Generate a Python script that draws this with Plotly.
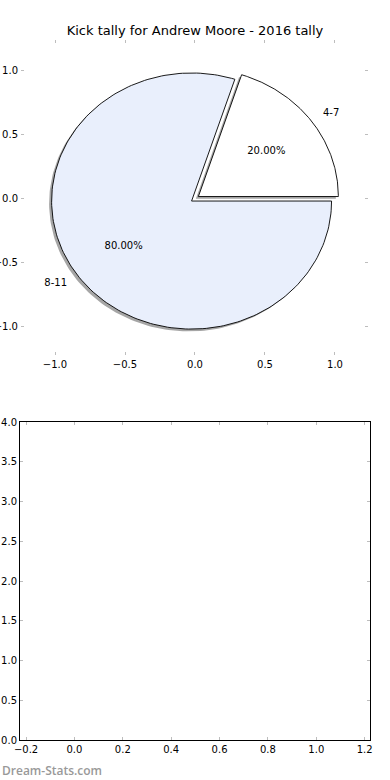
import numpy as np
import plotly.graph_objects as go

# ---- data ----
labels = ["4-7", "8-11"]
shares = [20.0, 80.0]
slice_colors = ["#FFFFFF", "#E9EFFC"]
explode = [0.03, 0.03]
title_text = "Kick tally for Andrew Moore - 2016 tally"
watermark = "Dream-Stats.com"
top_ticks = [-1.0, -0.5, 0.0, 0.5, 1.0]
bottom_xticks = [-0.2, 0.0, 0.2, 0.4, 0.6, 0.8, 1.0, 1.2]
bottom_yticks = [0.0, 0.5, 1.0, 1.5, 2.0, 2.5, 3.0, 3.5, 4.0]

W, H = 390, 780
FONT = "DejaVu Sans"

fig = go.Figure()

# ---- pie built in data coordinates (matplotlib-style, start angle 0, ccw) ----
total = sum(shares)
theta_start = 0.0
wedges = []
for lab, val, col, ex in zip(labels, shares, slice_colors, explode):
    span = 360.0 * val / total
    t1, t2 = theta_start, theta_start + span
    mid = np.deg2rad((t1 + t2) / 2)
    cx, cy = ex * np.cos(mid), ex * np.sin(mid)
    th = np.deg2rad(np.linspace(t1, t2, 200))
    xs = np.concatenate([[cx], cx + np.cos(th), [cx]])
    ys = np.concatenate([[cy], cy + np.sin(th), [cy]])
    wedges.append((lab, val, col, ex, mid, cx, cy, xs, ys))
    theta_start = t2

shadow_off = -0.018
for lab, val, col, ex, mid, cx, cy, xs, ys in wedges:
    fig.add_trace(go.Scatter(x=xs + shadow_off, y=ys + shadow_off, mode="lines",
                             fill="toself", fillcolor="rgba(77,77,77,0.5)",
                             line=dict(width=0), hoverinfo="skip", showlegend=False,
                             xaxis="x", yaxis="y"))
for lab, val, col, ex, mid, cx, cy, xs, ys in wedges:
    fig.add_trace(go.Scatter(x=xs, y=ys, mode="lines", fill="toself", fillcolor=col,
                             line=dict(color="black", width=0.9), hoverinfo="skip",
                             showlegend=False, xaxis="x", yaxis="y"))

for lab, val, col, ex, mid, cx, cy, xs, ys in wedges:
    # percentage
    r = 0.6 + ex
    fig.add_trace(go.Scatter(x=[r * np.cos(mid)], y=[r * np.sin(mid)], mode="text",
                             text=[f"{100*val/total:.2f}%"], textposition="middle center",
                             textfont=dict(family=FONT, size=10, color="black"),
                             hoverinfo="skip", showlegend=False, xaxis="x", yaxis="y"))
    # label
    r = 1.1 + ex
    lx, ly = r * np.cos(mid), r * np.sin(mid)
    pos = "middle right" if lx > 0 else "middle left"
    fig.add_trace(go.Scatter(x=[lx], y=[ly], mode="text", text=[lab], textposition=pos,
                             textfont=dict(family=FONT, size=10, color="black"),
                             hoverinfo="skip", showlegend=False, xaxis="x", yaxis="y"))

# empty lower axes
fig.add_trace(go.Scatter(x=[], y=[], mode="markers", showlegend=False, xaxis="x2", yaxis="y2"))

tick_common = dict(ticks="inside", ticklen=3, tickwidth=1, tickcolor="#bdbdbd",
                   showgrid=False, zeroline=False, automargin=False,
                   tickfont=dict(family=FONT, size=10, color="black"))

fig.update_layout(
    width=W, height=H,
    margin=dict(l=0, r=0, t=0, b=0),
    paper_bgcolor="white", plot_bgcolor="white",
    font=dict(family=FONT, size=10, color="black"),
    title=dict(text=title_text, x=195 / W, xanchor="center", y=1 - 30 / H, yanchor="middle",
               font=dict(family=FONT, size=13, color="black")),
    xaxis=dict(domain=[21 / W, 368 / W], range=[-1.243, 1.236], tickvals=top_ticks,
               tickformat=".1f", showline=True, linecolor="rgba(0,0,0,0)", mirror="ticks",
               anchor="y", **tick_common),
    yaxis=dict(domain=[1 - 355 / H, 1 - 40 / H], range=[-1.22, 1.24], tickvals=top_ticks,
               tickformat=".1f", showline=True, linecolor="rgba(0,0,0,0)", mirror="ticks",
               anchor="x", **tick_common),
    xaxis2=dict(domain=[20 / W, 370 / W], range=[-0.225, 1.222], tickvals=bottom_xticks,
                tickformat=".1f", showline=True, linecolor="black", linewidth=1, mirror="ticks",
                anchor="y2", **tick_common),
    yaxis2=dict(domain=[1 - 740 / H, 1 - 422 / H], range=[0, 4], tickvals=bottom_yticks,
                tickformat=".1f", showline=True, linecolor="black", linewidth=1, mirror="ticks",
                anchor="x2", **tick_common),
    annotations=[dict(text=watermark, x=0, y=1 - 770 / H, xref="paper", yref="paper",
                      xanchor="left", yanchor="middle", showarrow=False,
                      font=dict(family="Open Sans", size=12, color="#999999", weight=600))],
)

fig.write_html("out.html")
